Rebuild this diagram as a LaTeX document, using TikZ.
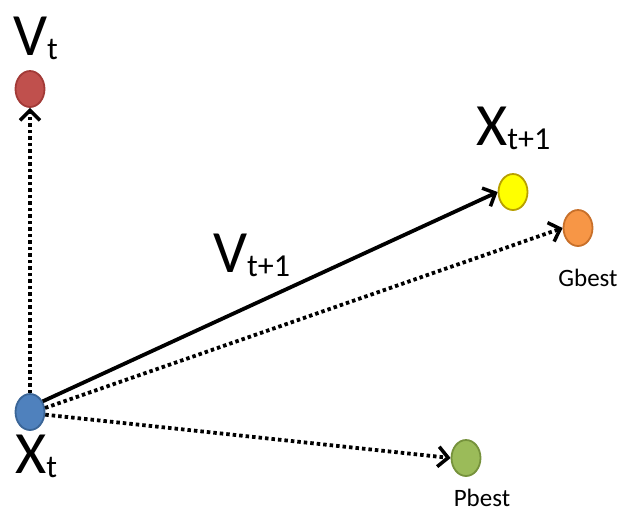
\documentclass[tikz,border=0pt]{standalone}
\usepackage{fontspec}
\setmainfont{Carlito}
\usetikzlibrary{arrows.meta,shapes.geometric}
\definecolor{cred}{HTML}{C0504D}
\definecolor{credb}{HTML}{A23A37}
\definecolor{cblue}{HTML}{4F81BD}
\definecolor{cblueb}{HTML}{3A6597}
\definecolor{cyel}{HTML}{FFFF00}
\definecolor{cyelb}{HTML}{B8A000}
\definecolor{corg}{HTML}{F79646}
\definecolor{corgb}{HTML}{C8702A}
\definecolor{cgrn}{HTML}{9BBB59}
\definecolor{cgrnb}{HTML}{76923C}
\tikzset{
  dotnode/.style={ellipse, minimum width=29pt, minimum height=36pt, inner sep=0pt, line width=1.8pt},
  biglabel/.style={font=\fontsize{60}{64}\selectfont, inner sep=0pt},
  smalllabel/.style={font=\fontsize{25}{28}\selectfont, inner sep=0pt},
  arr/.style={line width=3.8pt, -{Straight Barb[length=10pt,width=20pt,line width=3.5pt]}},
  dotarr/.style={arr, dash pattern=on 3.5pt off 3pt},
}
\newcommand{\sbt}[1]{{\fontsize{32}{32}\selectfont\raisebox{-4pt}{#1}}}
\begin{document}
\begin{tikzpicture}[x=1pt,y=-1pt]
\useasboundingbox (0,0) rectangle (632,517);
\node[dotnode, fill=cred, draw=credb] (vt) at (30,89) {};
\node[dotnode, fill=cblue, draw=cblueb] (xt) at (30,412) {};
\node[dotnode, fill=cyel, draw=cyelb] (xt1) at (513,192) {};
\node[dotnode, fill=corg, draw=corgb] (gb) at (578,228) {};
\node[dotnode, fill=cgrn, draw=cgrnb] (pb) at (466,458) {};

\node[biglabel, anchor=base west] (lvt) at (13,55) {V\sbt{t}};
\node[biglabel, anchor=base west] (lxt) at (15,473) {X\sbt{t}};
\node[biglabel, anchor=base west] (lxt1) at (476,145) {X\sbt{t+1}};
\node[biglabel, anchor=base west] (lvt1) at (213,272) {V\sbt{t+1}};
\node[smalllabel, anchor=base] (lgb) at (588,286) {Gbest};
\node[smalllabel, anchor=base] (lpb) at (482,506) {Pbest};

\draw[dotarr] (xt.north) -- (vt.south);
\draw[arr] (xt.40) -- (xt1.west);
\draw[dotarr] (xt.15) -- (gb.west);
\draw[dotarr] (xt.-10) -- (pb.west);
\end{tikzpicture}
\end{document}
